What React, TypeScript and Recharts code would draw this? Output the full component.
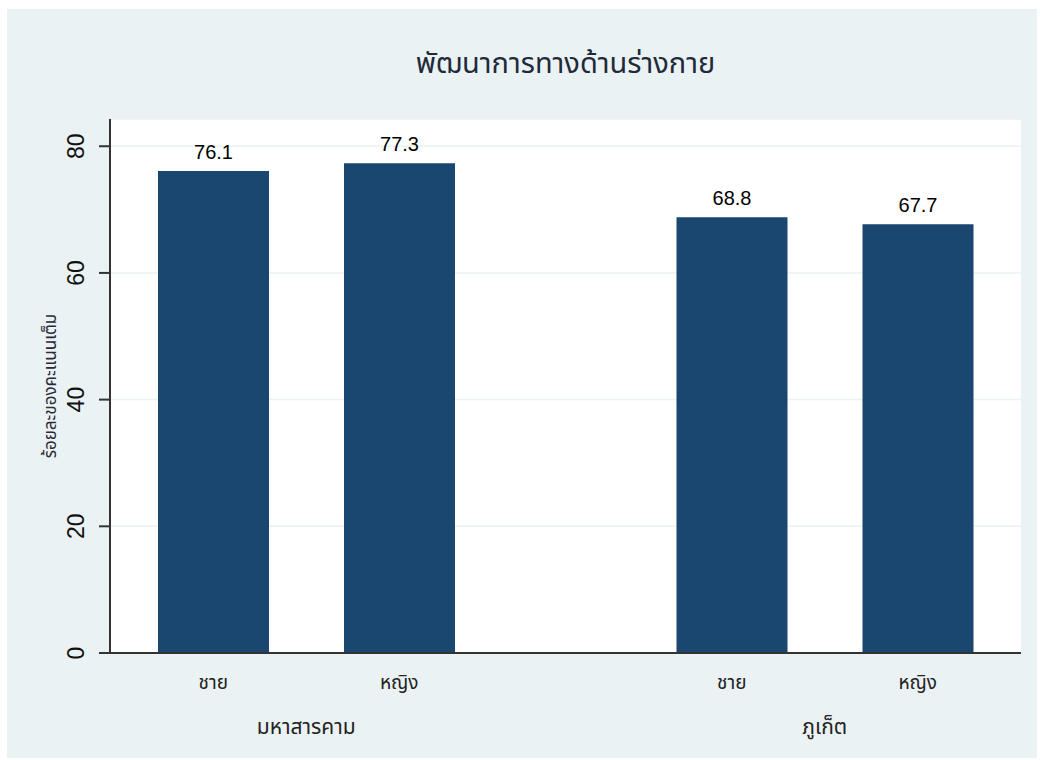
import React from "react";
import { BarChart, Bar, XAxis, YAxis, CartesianGrid, LabelList } from "recharts";

// Chart data
const groups = ["มหาสารคาม", "ภูเก็ต"];
const genders = ["ชาย", "หญิง"];
const maleValues = [76.1, 68.8];
const femaleValues = [77.3, 67.7];
const yTicks = [0, 20, 40, 60, 80];

const title = "พัฒนาการทางด้านร่างกาย";
const yLabel = "ร้อยละของคะแนนเต็ม";

const chartData = groups.map((g, i) => ({
  group: g,
  male: maleValues[i],
  female: femaleValues[i],
}));

const BAR_COLOR = "#1a476f";
const BG = "#eaf2f3";
const THAI_FONT = "Tahoma, 'Noto Sans Thai', 'Loma', 'Garuda', 'DejaVu Sans', sans-serif";
const NUM_FONT = "Arial, 'Liberation Sans', sans-serif";

const BAR_SIZE = 111;
const BAR_GAP = 75;

const YTick = (props: any) => {
  const { x, y, payload } = props;
  const tx = x - 13;
  return (
    <text
      x={tx}
      y={y}
      transform={`rotate(-90 ${tx} ${y})`}
      textAnchor="middle"
      fontSize={23}
      fontFamily={NUM_FONT}
      fill="#111"
    >
      {payload.value}
    </text>
  );
};

// inner labels (gender) under each bar + outer label (province) under the group
const XTick = (props: any) => {
  const { x, y, payload } = props;
  const half = (BAR_SIZE + BAR_GAP) / 2;
  return (
    <g fontFamily={THAI_FONT} fill="#222" textAnchor="middle">
      <text x={x - half} y={y + 28} fontSize={19}>
        {genders[0]}
      </text>
      <text x={x + half} y={y + 28} fontSize={19}>
        {genders[1]}
      </text>
      <text x={x} y={y + 73} fontSize={21}>
        {payload.value}
      </text>
    </g>
  );
};

const YLabel = (props: any) => {
  const { viewBox } = props;
  const lx = viewBox.x + 43;
  const ly = viewBox.y + viewBox.height / 2;
  return (
    <text
      x={lx}
      y={ly}
      dy="0.35em"
      transform={`rotate(-90 ${lx} ${ly})`}
      textAnchor="middle"
      fontSize={17}
      fontFamily={THAI_FONT}
      fill="#2a2a3a"
    >
      {yLabel}
    </text>
  );
};

export default function App() {
  return (
    <div
      style={{
        position: "absolute",
        left: 7,
        top: 9,
        width: 1030,
        height: 749,
        background: BG,
      }}
    >
      <div
        style={{
          position: "absolute",
          left: 0,
          width: 1117,
          top: 33,
          textAlign: "center",
          fontFamily: THAI_FONT,
          fontSize: 29,
          color: "#1f2a3a",
          whiteSpace: "nowrap",
        }}
      >
        {title}
      </div>
      <BarChart
        width={1030}
        height={749}
        data={chartData}
        margin={{ top: 110, right: 16, left: 0, bottom: 0 }}
        barSize={BAR_SIZE}
        barGap={BAR_GAP}
      >
        <CartesianGrid vertical={false} stroke={BG} strokeWidth={1.5} fill="#ffffff" />
        <XAxis
          dataKey="group"
          height={105}
          padding={{ left: -63, right: -63 }}
          tickLine={false}
          axisLine={{ stroke: "#333", strokeWidth: 2 }}
          tick={<XTick />}
          interval={0}
        />
        <YAxis
          width={103}
          domain={[0, 84.3]}
          ticks={yTicks}
          tickSize={11}
          axisLine={{ stroke: "#333", strokeWidth: 2 }}
          tickLine={{ stroke: "#333", strokeWidth: 2 }}
          tick={<YTick />}
          label={<YLabel />}
        />
        <Bar dataKey="male" fill={BAR_COLOR} isAnimationActive={false}>
          <LabelList
            dataKey="male"
            position="top"
            offset={12}
            fontSize={20}
            fontFamily={NUM_FONT}
            fill="#000"
          />
        </Bar>
        <Bar dataKey="female" fill={BAR_COLOR} isAnimationActive={false}>
          <LabelList
            dataKey="female"
            position="top"
            offset={12}
            fontSize={20}
            fontFamily={NUM_FONT}
            fill="#000"
          />
        </Bar>
      </BarChart>
    </div>
  );
}
